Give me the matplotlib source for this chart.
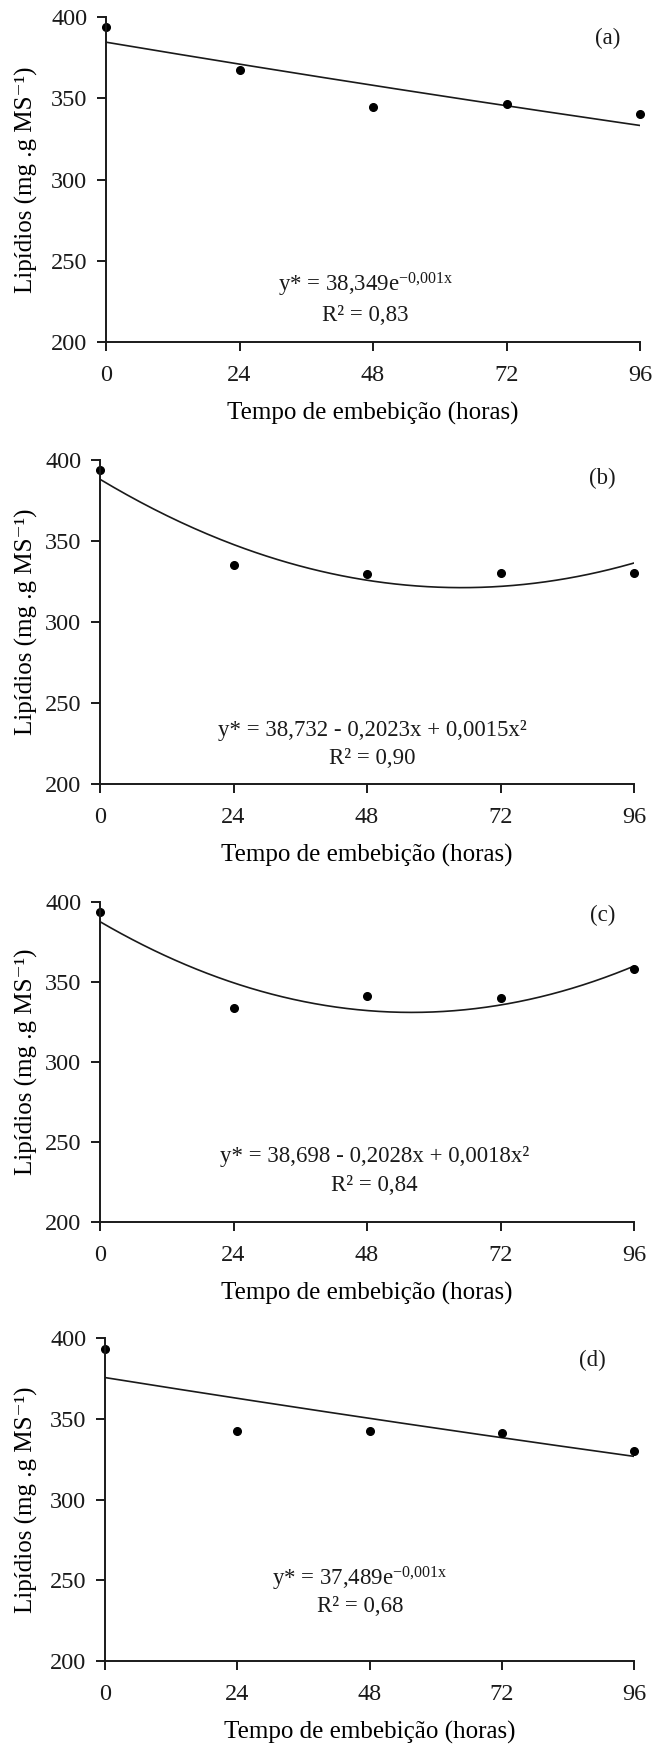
import numpy as np
import matplotlib
matplotlib.use("Agg")
import matplotlib.pyplot as plt

plt.rcParams['font.family'] = ['Liberation Serif', 'DejaVu Serif']
plt.rcParams['mathtext.fontset'] = 'custom'
plt.rcParams['mathtext.rm'] = 'Liberation Serif'
plt.rcParams['mathtext.it'] = 'Liberation Serif:italic'
plt.rcParams['text.color'] = '#1a1a1a'

# dados
horas = [0, 24, 48, 72, 96]
lip_a = [393.8, 367.6, 344.7, 346.4, 340.6]
lip_b = [393.8, 335.2, 329.4, 330.5, 330.5]
lip_c = [394.0, 333.9, 341.2, 340.1, 358.1]
lip_d = [393.4, 342.5, 342.5, 341.2, 330.1]

fit_a = ('exp', [384.5, -0.00149])
fit_b = ('quad', [388.1, -2.058, 0.01583])
fit_c = ('quad', [387.7, -2.025, 0.01808])
fit_d = ('exp', [375.5, -0.00145])

eq_a = r"y* = 38,349$\mathrm{e^{-0{,}001x}}$"
eq_b = "y* = 38,732 - 0,2023x + 0,0015x²"
eq_c = "y* = 38,698 - 0,2028x + 0,0018x²"
eq_d = r"y* = 37,489$\mathrm{e^{-0{,}001x}}$"
r2 = ["R² = 0,83", "R² = 0,90", "R² = 0,84", "R² = 0,68"]
letras = ["(a)", "(b)", "(c)", "(d)"]

# posicao das equacoes (x, y_eq, y_r2) em coordenadas de dados
eq_pos = [(46.6, 235, 216.5), (48.9, 233.3, 215.8), (49.4, 240.7, 223), (46.3, 251, 233.6)]
letra_pos = [(90.2, 387), (90.3, 388.7), (90.3, 391.9), (88.5, 386.2)]

W, H = 654, 1747
fig = plt.figure(figsize=(W / 100, H / 100), dpi=100)

# caixas dos eixos em pixels: esquerda, topo, direita, base
caixas = [(106, 17, 640, 342), (100, 460, 634, 784), (100, 902, 634, 1222), (105, 1338, 634, 1661)]

dados = [lip_a, lip_b, lip_c, lip_d]
fits = [fit_a, fit_b, fit_c, fit_d]
eqs = [eq_a, eq_b, eq_c, eq_d]

xx = np.linspace(0, 96, 200)
for i in range(4):
    l, t, r, b = caixas[i]
    ax = fig.add_axes([l / W, 1 - b / H, (r - l) / W, (b - t) / H])
    tipo, c = fits[i]
    if tipo == 'exp':
        yy = c[0] * np.exp(c[1] * xx)
    else:
        yy = c[0] + c[1] * xx + c[2] * xx ** 2
    ax.plot(xx, yy, color='#1a1a1a', lw=1.2)
    ax.plot(horas, dados[i], 'o', color='black', ms=5.5, clip_on=False)

    ax.set_xlim(0, 96)
    ax.set_ylim(200, 400)
    ax.set_xticks(horas)
    ax.set_yticks([200, 250, 300, 350, 400])
    ax.spines['top'].set_visible(False)
    ax.spines['right'].set_visible(False)
    for s in ['left', 'bottom']:
        ax.spines[s].set_linewidth(1.4)
        ax.spines[s].set_color('#1a1a1a')
    ax.tick_params(axis='both', direction='out', length=6.5, width=1.4, labelsize=17.5, colors='#1a1a1a')
    ax.tick_params(axis='x', pad=10)
    ax.tick_params(axis='y', pad=7)

    ax.set_xlabel("Tempo de embebição (horas)", fontsize=18, va='center')
    ax.set_ylabel("Lipídios (mg .g MS⁻¹)", fontsize=18, va='center')
    ax.xaxis.set_label_coords(0.5, -71 / (b - t))
    ax.yaxis.set_label_coords((26 - l) / (r - l), 0.5)

    ex, ey, ry = eq_pos[i]
    ax.text(ex, ey, eqs[i], ha='center', va='center', fontsize=16.5)
    ax.text(ex, ry, r2[i], ha='center', va='center', fontsize=16.5)
    lx, ly = letra_pos[i]
    ax.text(lx, ly, letras[i], ha='center', va='center', fontsize=16.5)

fig.savefig("out.png", dpi=100)
